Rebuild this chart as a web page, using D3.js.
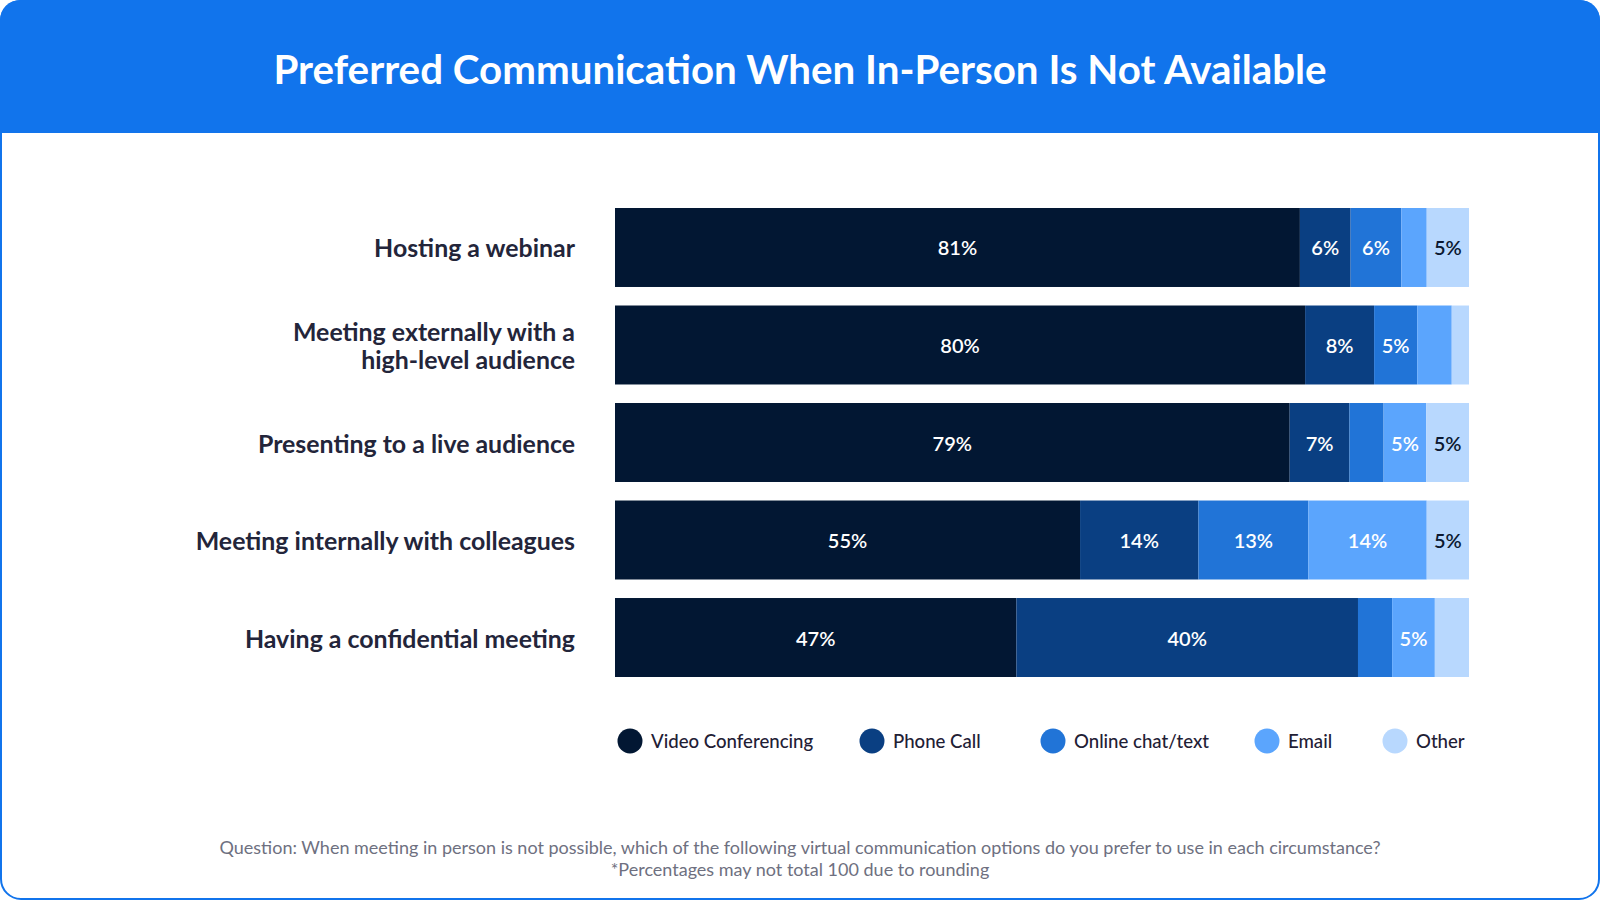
<!DOCTYPE html>
<html>
<head>
<meta charset="utf-8">
<script src="https://cdn.jsdelivr.net/npm/d3@7"></script>
<style>
  html, body { margin: 0; padding: 0; background: #ffffff; }
  svg { display: block; font-family: Lato, "Open Sans", sans-serif; }
</style>
</head>
<body>
<svg id="chart" width="1600" height="900"></svg>
<script>
// ---- Data ----
const title = "Preferred Communication When In-Person Is Not Available";
const categories = [
  "Hosting a webinar",
  "Meeting externally with a\nhigh-level audience",
  "Presenting to a live audience",
  "Meeting internally with colleagues",
  "Having a confidential meeting"
];
const seriesNames = ["Video Conferencing", "Phone Call", "Online chat/text", "Email", "Other"];
const videoConferencing = [81, 80, 79, 55, 47];
const phoneCall         = [6, 8, 7, 14, 40];
const onlineChat        = [6, 5, 4, 13, 4];
const email             = [3, 4, 5, 14, 5];
const other             = [5, 2, 5, 5, 4];
const footnotes = [
  "Question: When meeting in person is not possible, which of the following virtual communication options do you prefer to use in each circumstance?",
  "*Percentages may not total 100 due to rounding"
];

// ---- Styles ----
const colors = ["#021733", "#0a3f82", "#2174d7", "#5ba5fd", "#b8d8fe"];
const labelColors = ["#ffffff", "#ffffff", "#ffffff", "#ffffff", "#0b1830"];
const W = 1600, H = 900;

const svg = d3.select("#chart");

// card with border
const headerH = 133;
svg.append("rect").attr("x", 1).attr("y", 1).attr("width", W - 2).attr("height", H - 2)
  .attr("rx", 20).attr("ry", 20).attr("fill", "#ffffff").attr("stroke", "#1174ec").attr("stroke-width", 2);
// header: rounded top, square bottom
svg.append("path")
  .attr("d", `M0,${headerH} L0,20 A20,20 0 0 1 20,0 L${W - 20},0 A20,20 0 0 1 ${W},20 L${W},${headerH} Z`)
  .attr("fill", "#1174ec");
svg.append("text").attr("x", W / 2).attr("y", 68).attr("text-anchor", "middle")
  .attr("dominant-baseline", "central").attr("fill", "#ffffff")
  .attr("font-size", 40.3).attr("font-weight", 700).text(title);

// ---- Build table ----
const seriesArrays = [videoConferencing, phoneCall, onlineChat, email, other];
const table = categories.map((c, i) => {
  const row = { category: c };
  seriesNames.forEach((s, j) => row[s] = seriesArrays[j][i]);
  return row;
});
const stacked = d3.stack().keys(seriesNames).offset(d3.stackOffsetExpand)(table);

const x = d3.scaleLinear().domain([0, 1]).range([615, 1469]);
const y = d3.scaleBand().domain(categories).range([208, 677]).paddingInner(0.19).paddingOuter(0);
const color = d3.scaleOrdinal().domain(seriesNames).range(colors);
const labelColor = d3.scaleOrdinal().domain(seriesNames).range(labelColors);

const groups = svg.append("g").selectAll("g").data(stacked).join("g")
  .attr("fill", d => color(d.key));

groups.selectAll("rect").data(d => d.map(v => Object.assign(v, { key: d.key }))).join("rect")
  .attr("x", d => x(d[0]))
  .attr("y", d => y(d.data.category))
  .attr("width", d => x(d[1]) - x(d[0]))
  .attr("height", y.bandwidth());

// segment labels (shown for values >= 5)
groups.selectAll("text").data(d => d.filter(v => v.data[d.key] >= 5)).join("text")
  .attr("x", d => (x(d[0]) + x(d[1])) / 2)
  .attr("y", d => y(d.data.category) + y.bandwidth() / 2)
  .attr("text-anchor", "middle").attr("dominant-baseline", "central")
  .attr("fill", d => labelColor(d.key))
  .attr("font-size", 20).attr("font-weight", 600)
  .text(d => d.data[d.key] + "%");

// category labels
const catG = svg.append("g");
categories.forEach(c => {
  const lines = c.split("\n");
  const cy = y(c) + y.bandwidth() / 2;
  const lh = 28.5;
  const t = catG.append("text").attr("text-anchor", "end").attr("fill", "#23253a")
    .attr("font-size", 24.9).attr("font-weight", 700);
  lines.forEach((ln, k) => {
    t.append("tspan").attr("x", 575)
      .attr("y", cy + (k - (lines.length - 1) / 2) * lh)
      .attr("dominant-baseline", "central").text(ln);
  });
});

// legend
const legendX = [630, 872, 1053, 1267, 1395];
const legendY = 741;
const leg = svg.append("g").selectAll("g").data(seriesNames).join("g")
  .attr("transform", (d, i) => `translate(${legendX[i]},${legendY})`);
leg.append("circle").attr("r", 12.5).attr("fill", d => color(d));
leg.append("text").attr("x", 21).attr("dominant-baseline", "central")
  .attr("fill", "#1f2035").attr("font-size", 18.6).attr("font-weight", 500).text(d => d);

// footnotes
svg.append("g").selectAll("text").data(footnotes).join("text")
  .attr("x", W / 2).attr("y", (d, i) => 847 + i * 22)
  .attr("text-anchor", "middle").attr("dominant-baseline", "central")
  .attr("fill", "#6e7080").attr("font-size", 18).text(d => d);
</script>
</body>
</html>
